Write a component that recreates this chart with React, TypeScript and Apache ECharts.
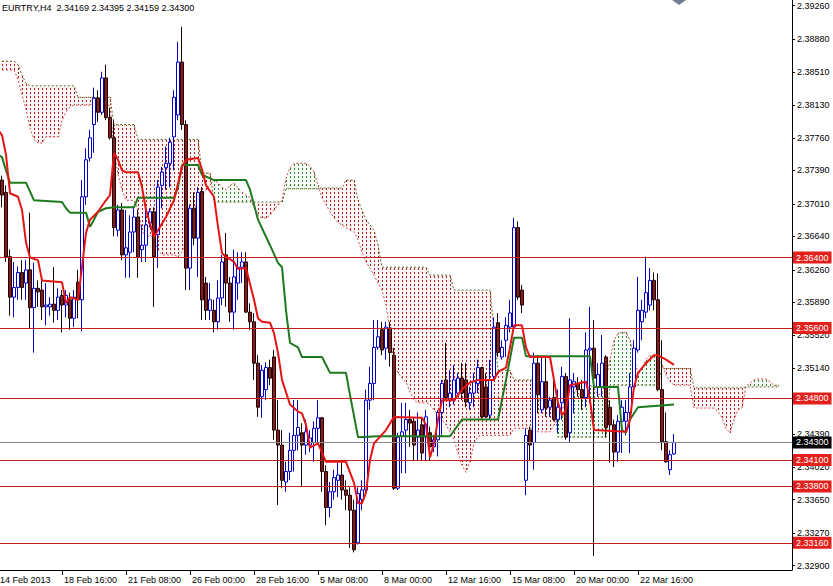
import React, { useEffect, useRef } from "react";
import * as echarts from "echarts";

const SYMBOL = "EURTRY,H4";
const lastBar = [2.34169, 2.34395, 2.34159, 2.343];
const SLOT_COUNT = 199;
const TICK_EVERY = 16;
const CLOUD_LAST = 195;

const xTickLabels = [
  "14 Feb 2013", "18 Feb 16:00", "21 Feb 08:00", "26 Feb 00:00", "28 Feb 16:00",
  "5 Mar 08:00", "8 Mar 00:00", "12 Mar 16:00", "15 Mar 08:00", "20 Mar 00:00", "22 Mar 16:00",
];

const yTicks = [
  2.3926, 2.3888, 2.3851, 2.3813, 2.3776, 2.3739, 2.3701, 2.3664, 2.3626,
  2.3589, 2.3552, 2.3514, 2.3439, 2.3402, 2.3365, 2.3327, 2.329,
];

const levels = [2.364, 2.356, 2.348, 2.341, 2.338, 2.3316];
const bidPrice = 2.343;

// [open, high, low, close]
const candles = [
  [2.3742, 2.3751, 2.3717, 2.3728], [2.3728, 2.3733, 2.3697, 2.3711], [2.3714, 2.3722, 2.3635, 2.3641],
  [2.3641, 2.3649, 2.3574, 2.3595], [2.3595, 2.3635, 2.3572, 2.3606], [2.3606, 2.3630, 2.3592, 2.3623],
  [2.3623, 2.3637, 2.3592, 2.3606], [2.3611, 2.3637, 2.3592, 2.3626], [2.3626, 2.3691, 2.3560, 2.3583],
  [2.3583, 2.3634, 2.3532, 2.3605], [2.3605, 2.3614, 2.3584, 2.3601], [2.3603, 2.3614, 2.3569, 2.3584],
  [2.3584, 2.3611, 2.3563, 2.3586], [2.3584, 2.3595, 2.3574, 2.3587], [2.3587, 2.3629, 2.3566, 2.3580],
  [2.3580, 2.3605, 2.3569, 2.3595], [2.3597, 2.3603, 2.3555, 2.3586], [2.3586, 2.3603, 2.3572, 2.3597],
  [2.3592, 2.3600, 2.3558, 2.3571], [2.3571, 2.3603, 2.3561, 2.3595], [2.3612, 2.3626, 2.3571, 2.3592],
  [2.3592, 2.3728, 2.3556, 2.3709], [2.3709, 2.3764, 2.3700, 2.3751], [2.3753, 2.3785, 2.3749, 2.3776],
  [2.3791, 2.3833, 2.3759, 2.3821], [2.3821, 2.3830, 2.3794, 2.3805], [2.3805, 2.3851, 2.3802, 2.3844],
  [2.3844, 2.3859, 2.3796, 2.3799], [2.3799, 2.3810, 2.3774, 2.3776], [2.3776, 2.3796, 2.3664, 2.3674],
  [2.3671, 2.3700, 2.3664, 2.3694], [2.3694, 2.3702, 2.3637, 2.3643], [2.3643, 2.3694, 2.3617, 2.3651],
  [2.3646, 2.3688, 2.3617, 2.3669], [2.3669, 2.3697, 2.3646, 2.3686], [2.3686, 2.3694, 2.3617, 2.3640],
  [2.3649, 2.3677, 2.3635, 2.3654], [2.3654, 2.3694, 2.3635, 2.3677], [2.3679, 2.3696, 2.3674, 2.3692],
  [2.3692, 2.3697, 2.3584, 2.3641], [2.3666, 2.3728, 2.3628, 2.3720], [2.3722, 2.3743, 2.3696, 2.3737],
  [2.3742, 2.3766, 2.3717, 2.3747], [2.3747, 2.3776, 2.3720, 2.3771], [2.3777, 2.3830, 2.3739, 2.3822],
  [2.3802, 2.3885, 2.3796, 2.3862], [2.3862, 2.3902, 2.3785, 2.3791], [2.3791, 2.3796, 2.3603, 2.3628],
  [2.3628, 2.3700, 2.3603, 2.3696], [2.3696, 2.3714, 2.3654, 2.3662], [2.3662, 2.3720, 2.3618, 2.3714],
  [2.3715, 2.3720, 2.3569, 2.3592], [2.3611, 2.3618, 2.3569, 2.3580], [2.3580, 2.3611, 2.3569, 2.3592],
  [2.3580, 2.3592, 2.3555, 2.3567], [2.3567, 2.3614, 2.3558, 2.3594], [2.3594, 2.3643, 2.3586, 2.3635],
  [2.3643, 2.3668, 2.3584, 2.3611], [2.3611, 2.3618, 2.3567, 2.3578], [2.3578, 2.3649, 2.3558, 2.3618],
  [2.3611, 2.3646, 2.3592, 2.3629], [2.3629, 2.3646, 2.3611, 2.3635], [2.3635, 2.3646, 2.3577, 2.3578],
  [2.3578, 2.3588, 2.3558, 2.3567], [2.3567, 2.3577, 2.3501, 2.3520], [2.3520, 2.3529, 2.3459, 2.3470],
  [2.3482, 2.3518, 2.3458, 2.3512], [2.3490, 2.3521, 2.3478, 2.3515], [2.3515, 2.3524, 2.3495, 2.3503],
  [2.3527, 2.3535, 2.3433, 2.3444], [2.3444, 2.3478, 2.3359, 2.3427], [2.3427, 2.3444, 2.3378, 2.3387],
  [2.3385, 2.3408, 2.3374, 2.3397], [2.3397, 2.3441, 2.3387, 2.3421], [2.3421, 2.3478, 2.3397, 2.3438],
  [2.3438, 2.3478, 2.3421, 2.3447], [2.3441, 2.3452, 2.3380, 2.3427], [2.3427, 2.3456, 2.3416, 2.3442],
  [2.3427, 2.3444, 2.3419, 2.3435], [2.3430, 2.3454, 2.3408, 2.3446], [2.3446, 2.3478, 2.3430, 2.3458],
  [2.3458, 2.3459, 2.3374, 2.3397], [2.3397, 2.3404, 2.3336, 2.3356], [2.3356, 2.3385, 2.3345, 2.3374],
  [2.3374, 2.3399, 2.3365, 2.3390], [2.3387, 2.3407, 2.3368, 2.3393], [2.3393, 2.3407, 2.3365, 2.3376],
  [2.3376, 2.3387, 2.3353, 2.3370], [2.3370, 2.3379, 2.3310, 2.3353], [2.3353, 2.3365, 2.3305, 2.3308],
  [2.3316, 2.3379, 2.3314, 2.3372], [2.3365, 2.3387, 2.3353, 2.3376], [2.3376, 2.3490, 2.3370, 2.3478],
  [2.3478, 2.3516, 2.3467, 2.3497], [2.3497, 2.3569, 2.3478, 2.3538], [2.3538, 2.3569, 2.3535, 2.3550],
  [2.3558, 2.3567, 2.3529, 2.3535], [2.3537, 2.3567, 2.3524, 2.3561], [2.3560, 2.3567, 2.3516, 2.3532],
  [2.3529, 2.3537, 2.3376, 2.3378], [2.3378, 2.3441, 2.3376, 2.3436], [2.3437, 2.3475, 2.3395, 2.3442],
  [2.3444, 2.3475, 2.3395, 2.3456], [2.3456, 2.3467, 2.3425, 2.3452], [2.3454, 2.3459, 2.3410, 2.3427],
  [2.3436, 2.3464, 2.3410, 2.3444], [2.3450, 2.3459, 2.3410, 2.3418], [2.3436, 2.3467, 2.3410, 2.3459],
  [2.3441, 2.3448, 2.3410, 2.3425], [2.3425, 2.3438, 2.3419, 2.3433], [2.3433, 2.3467, 2.3414, 2.3464],
  [2.3464, 2.3501, 2.3436, 2.3497], [2.3501, 2.3543, 2.3478, 2.3481], [2.3478, 2.3512, 2.3470, 2.3486],
  [2.3478, 2.3518, 2.3473, 2.3501], [2.3486, 2.3509, 2.3482, 2.3503], [2.3503, 2.3520, 2.3478, 2.3486],
  [2.3501, 2.3520, 2.3470, 2.3476], [2.3475, 2.3493, 2.3467, 2.3486], [2.3486, 2.3509, 2.3470, 2.3499],
  [2.3497, 2.3524, 2.3486, 2.3515], [2.3515, 2.3516, 2.3456, 2.3459], [2.3493, 2.3509, 2.3458, 2.3459],
  [2.3461, 2.3524, 2.3456, 2.3501], [2.3505, 2.3572, 2.3501, 2.3561], [2.3566, 2.3577, 2.3527, 2.3532],
  [2.3527, 2.3546, 2.3524, 2.3538], [2.3546, 2.3572, 2.3527, 2.3563], [2.3561, 2.3592, 2.3555, 2.3577],
  [2.3561, 2.3685, 2.3558, 2.3674], [2.3674, 2.3681, 2.3592, 2.3595], [2.3603, 2.3609, 2.3577, 2.3586],
  [2.3387, 2.3446, 2.3370, 2.3438], [2.3444, 2.3448, 2.3410, 2.3427], [2.3430, 2.3532, 2.3399, 2.3520],
  [2.3520, 2.3529, 2.3463, 2.3484], [2.3467, 2.3527, 2.3463, 2.3499], [2.3499, 2.3527, 2.3459, 2.3469],
  [2.3470, 2.3482, 2.3459, 2.3478], [2.3481, 2.3501, 2.3454, 2.3456], [2.3456, 2.3490, 2.3441, 2.3470],
  [2.3475, 2.3516, 2.3456, 2.3505], [2.3505, 2.3509, 2.3433, 2.3436], [2.3441, 2.3571, 2.3430, 2.3501],
  [2.3493, 2.3509, 2.3463, 2.3499], [2.3497, 2.3504, 2.3482, 2.3490], [2.3490, 2.3501, 2.3467, 2.3481],
  [2.3481, 2.3555, 2.3470, 2.3535], [2.3535, 2.3584, 2.3475, 2.3537], [2.3537, 2.3569, 2.3301, 2.3503],
  [2.3493, 2.3520, 2.3482, 2.3507], [2.3493, 2.3552, 2.3482, 2.3520], [2.3527, 2.3529, 2.3436, 2.3447],
  [2.3470, 2.3478, 2.3407, 2.3450], [2.3450, 2.3456, 2.3402, 2.3419], [2.3419, 2.3461, 2.3408, 2.3454],
  [2.3454, 2.3478, 2.3418, 2.3470], [2.3454, 2.3478, 2.3438, 2.3464], [2.3464, 2.3509, 2.3418, 2.3493],
  [2.3493, 2.3546, 2.3486, 2.3537], [2.3535, 2.3618, 2.3532, 2.3580], [2.3567, 2.3592, 2.3546, 2.3580],
  [2.3578, 2.3641, 2.3571, 2.3600], [2.3586, 2.3628, 2.3580, 2.3614], [2.3614, 2.3623, 2.3580, 2.3592],
  [2.3592, 2.3622, 2.3488, 2.3490], [2.3490, 2.3546, 2.3421, 2.3431], [2.3431, 2.3464, 2.3407, 2.3408],
  [2.3399, 2.3421, 2.3393, 2.3416], [2.34169, 2.34395, 2.34159, 2.343],
];

// Tenkan-sen vertices [barIndex, price]
const tenkan = [
  [0, 2.3785], [1, 2.3779], [2, 2.3757], [3, 2.3713], [4, 2.3711], [5, 2.3709], [6, 2.3694], [7, 2.3657],
  [8, 2.364], [10, 2.3637], [11, 2.3614], [16, 2.3612], [17, 2.3588], [18, 2.3595], [20, 2.3592], [21, 2.3629],
  [22, 2.3668], [23, 2.3683], [25, 2.3692], [27, 2.3705], [28, 2.3711], [29, 2.3759], [30, 2.3751], [31, 2.3739],
  [32, 2.3737], [35, 2.3737], [36, 2.372], [37, 2.3694], [39, 2.3663], [40, 2.3671], [42, 2.3686], [44, 2.3705],
  [46, 2.3743], [47, 2.3751], [50, 2.3753], [51, 2.374], [52, 2.3722], [54, 2.3709], [55, 2.3675], [56, 2.3645],
  [57, 2.3641], [59, 2.3635], [60, 2.3627], [62, 2.3628], [64, 2.3592], [65, 2.3571], [66, 2.3567], [68, 2.3566],
  [69, 2.3554], [70, 2.3532], [71, 2.3501], [73, 2.3473], [75, 2.3465], [76, 2.3463], [77, 2.345], [78, 2.3424],
  [80, 2.3429], [82, 2.3408], [87, 2.3408], [89, 2.3384], [90, 2.3361], [91, 2.3361], [92, 2.3373], [93, 2.341],
  [94, 2.3429], [97, 2.3444], [99, 2.3459], [106, 2.3458], [107, 2.345], [108, 2.3413], [109, 2.3429], [110, 2.3456],
  [111, 2.3478], [114, 2.3478], [116, 2.349], [118, 2.3498], [120, 2.3501], [124, 2.3501], [125, 2.351], [127, 2.3515],
  [128, 2.3538], [129, 2.3563], [131, 2.3563], [132, 2.3538], [133, 2.3527], [138, 2.3527], [140, 2.3475], [141, 2.3461],
  [142, 2.3467], [143, 2.3495], [147, 2.3499], [148, 2.3478], [149, 2.3444], [157, 2.3442], [158, 2.3456], [159, 2.3493],
  [160, 2.3509], [162, 2.352], [164, 2.3529], [165, 2.3529], [167, 2.3524], [169, 2.3518],
];

// Kijun-sen vertices [barIndex, price]
const kijun = [
  [0, 2.3757], [1, 2.3754], [2, 2.3739], [3, 2.3725], [7, 2.3725], [9, 2.3705], [16, 2.3703], [17, 2.3696],
  [18, 2.3691], [22, 2.3691], [23, 2.3675], [24, 2.3683], [25, 2.3692], [27, 2.3696], [29, 2.3697], [34, 2.3697],
  [35, 2.3708], [44, 2.3708], [45, 2.372], [46, 2.3745], [50, 2.3745], [51, 2.3734], [54, 2.3728], [62, 2.3728],
  [63, 2.3717], [65, 2.3683], [68, 2.3654], [70, 2.3634], [71, 2.3629], [72, 2.358], [73, 2.3543], [75, 2.3538],
  [76, 2.3527], [81, 2.3527], [83, 2.3509], [87, 2.3509], [88, 2.3484], [90, 2.3436], [95, 2.3437], [113, 2.3437],
  [116, 2.3456], [125, 2.3456], [127, 2.3501], [129, 2.3549], [131, 2.3549], [132, 2.3528], [148, 2.3528], [149, 2.3493],
  [155, 2.3493], [156, 2.3444], [157, 2.3441], [158, 2.3456], [160, 2.347], [169, 2.3473],
];

// Senkou span A / B: [fromBarIndex, price] (value holds until the next entry)
const spanA = [
  [0, 2.3853], [5, 2.3842], [6, 2.3825], [7, 2.3808], [8, 2.3787], [9, 2.3774], [10, 2.377], [12, 2.3777],
  [16, 2.3796], [17, 2.3805], [18, 2.3811], [19, 2.3813], [29, 2.3762], [30, 2.3734], [31, 2.3717], [32, 2.3705],
  [35, 2.3694], [36, 2.3671], [37, 2.366], [38, 2.3666], [39, 2.366], [40, 2.3649], [41, 2.3643], [45, 2.3641],
  [46, 2.3646], [47, 2.366], [48, 2.3677], [49, 2.3694], [50, 2.3705], [51, 2.3711], [52, 2.3717], [53, 2.3722],
  [54, 2.3728], [55, 2.3725], [56, 2.372], [57, 2.3717], [58, 2.3722], [59, 2.3725], [60, 2.3719], [61, 2.3714],
  [62, 2.3711], [63, 2.3708], [64, 2.3697], [65, 2.3688], [66, 2.3685], [68, 2.3688], [69, 2.3694], [70, 2.37],
  [71, 2.3705], [72, 2.373], [73, 2.3742], [74, 2.3747], [78, 2.3744], [79, 2.3737], [80, 2.3722], [81, 2.3708],
  [82, 2.37], [83, 2.3692], [84, 2.3685], [85, 2.368], [86, 2.3677], [87, 2.3674], [88, 2.3671], [89, 2.3669],
  [90, 2.366], [91, 2.3646], [92, 2.3635], [93, 2.3628], [94, 2.362], [95, 2.3611], [96, 2.3603], [97, 2.3586],
  [98, 2.3558], [99, 2.3518], [100, 2.3509], [101, 2.3503], [102, 2.3499], [103, 2.3487], [104, 2.3478], [105, 2.3475],
  [108, 2.3473], [109, 2.3467], [110, 2.3461], [111, 2.3456], [112, 2.345], [113, 2.3442], [114, 2.3433], [115, 2.3418],
  [116, 2.3404], [117, 2.3396], [118, 2.3408], [119, 2.3429], [120, 2.3437], [121, 2.3438], [129, 2.3446], [135, 2.3442],
  [139, 2.345], [140, 2.3456], [141, 2.3467], [142, 2.3478], [143, 2.3484], [144, 2.349], [145, 2.3486], [146, 2.3482],
  [147, 2.349], [148, 2.3495], [149, 2.3492], [150, 2.3484], [151, 2.3486], [152, 2.3501], [153, 2.3524], [154, 2.3546],
  [155, 2.3554], [156, 2.3555], [158, 2.3546], [159, 2.3529], [160, 2.3507], [161, 2.3514], [162, 2.3524], [163, 2.3529],
  [165, 2.3526], [166, 2.3518], [167, 2.3507], [168, 2.3499], [169, 2.3495], [174, 2.3469], [180, 2.3465], [181, 2.3458],
  [182, 2.3446], [183, 2.3441], [184, 2.3456], [185, 2.3467], [186, 2.3469], [187, 2.3494], [188, 2.3497], [189, 2.3501],
  [190, 2.3502], [193, 2.3499], [194, 2.3495],
];

const spanB = [
  [0, 2.3863], [5, 2.3859], [6, 2.3847], [7, 2.3838], [8, 2.3835], [20, 2.3822], [29, 2.3791], [35, 2.3774],
  [51, 2.3736], [54, 2.3703], [72, 2.3718], [81, 2.3719], [87, 2.3728], [90, 2.3705], [91, 2.3694], [92, 2.3683],
  [93, 2.3677], [94, 2.3671], [95, 2.3654], [96, 2.3629], [108, 2.362], [114, 2.3603], [124, 2.3558], [125, 2.3512],
  [129, 2.3501], [135, 2.3478], [140, 2.3436], [153, 2.3495], [166, 2.3514], [174, 2.3492], [187, 2.3493],
];

function holdRuns(runs: number[][], last: number): number[] {
  const out: number[] = [];
  let k = 0;
  for (let i = 0; i <= last; i++) {
    while (k + 1 < runs.length && runs[k + 1][0] <= i) k++;
    out.push(runs[k][1]);
  }
  return out;
}

const FONT = "'Liberation Sans', Arial, sans-serif";
const RED_LINE = "#c42020";
const LABEL_RED = "#e3201b";

export default function App() {
  const ref = useRef<HTMLDivElement>(null);

  useEffect(() => {
    if (!ref.current) return;
    const chart = echarts.init(ref.current, null, { renderer: "svg" });

    const categories = Array.from({ length: SLOT_COUNT }, (_, i) => String(i));
    const aFull = holdRuns(spanA, CLOUD_LAST);
    const bFull = holdRuns(spanB, CLOUD_LAST);
    const cloudData = aFull.map((a, i) => [i, a, bFull[i]]);
    const showTick = (i: number) => i % TICK_EVERY === 0 && i / TICK_EVERY < xTickLabels.length;

    const levelLabel = (bg: string) => ({
      show: true,
      position: "end",
      distance: 1,
      formatter: (p: any) => Number(p.value).toFixed(5),
      backgroundColor: bg,
      color: "#ffffff",
      fontSize: 9,
      fontFamily: FONT,
      padding: [2, 3, 1, 3],
    });

    const option: any = {
      animation: false,
      backgroundColor: "#ffffff",
      textStyle: { fontFamily: FONT },
      title: {
        text: `${SYMBOL}  ${lastBar.map((v) => v.toFixed(5)).join(" ")}`,
        left: 2,
        top: 3,
        padding: 0,
        textStyle: { fontSize: 9, fontWeight: "normal", color: "#000000", fontFamily: FONT },
      },
      grid: { left: -4, top: 0, width: SLOT_COUNT * 4, height: 570, containLabel: false, outerBoundsMode: "none" },
      xAxis: {
        type: "category",
        data: categories,
        boundaryGap: true,
        axisLine: { show: true, lineStyle: { color: "#000000", width: 1 } },
        axisTick: { show: true, alignWithLabel: true, interval: (i: number) => showTick(i), length: 5, lineStyle: { color: "#000000" } },
        axisLabel: {
          interval: (i: number) => showTick(i),
          formatter: (_v: string, i: number) => xTickLabels[Math.round(i / TICK_EVERY)] ?? "",
          align: "left",
          fontSize: 9,
          color: "#000000",
          margin: 5,
          padding: [0, 0, 0, 2],
        },
        splitLine: { show: false },
      },
      yAxis: {
        type: "value",
        position: "right",
        min: 2.32851,
        max: 2.39325,
        axisLine: { show: true, lineStyle: { color: "#000000", width: 1 } },
        axisTick: { show: true, customValues: yTicks, length: 3, lineStyle: { color: "#000000" } },
        axisLabel: { customValues: yTicks, formatter: (v: number) => v.toFixed(5), fontSize: 9, color: "#000000", margin: 5 },
        splitLine: { show: false },
      },
      graphic: [
        {
          type: "polygon",
          silent: true,
          shape: { points: [[672, 0], [686, 0], [679, 5]] },
          style: { fill: "#6e7e8e" },
        },
      ],
      series: [
        {
          type: "custom",
          name: "Kumo",
          silent: true,
          z: 1,
          data: cloudData,
          encode: { x: 0, y: [1, 2] },
          renderItem: (_params: any, api: any) => {
            const i = api.value(0);
            const a = api.value(1);
            const b = api.value(2);
            const pa = api.coord([i, a]);
            const pb = api.coord([i, b]);
            const up = a >= b;
            const x = Math.round(pa[0]) + 0.5;
            const y1 = Math.round(Math.min(pa[1], pb[1]));
            const y2 = Math.round(Math.max(pa[1], pb[1]));
            return {
              type: "group",
              children: [
                {
                  type: "rect",
                  shape: { x: x - 2, y: y1, width: 4, height: y2 - y1 },
                  style: { fill: up ? "rgba(60,150,60,0.04)" : "rgba(225,70,70,0.05)" },
                },
                {
                  type: "line",
                  shape: { x1: x, y1: y1, x2: x, y2: y2 },
                  style: { stroke: up ? "#2f7f2f" : "#b81c1c", lineWidth: 1, lineDash: [2, 2], lineDashOffset: ((y1 % 4) + 4) % 4 },
                },
              ],
            };
          },
        },
        {
          type: "line",
          name: "Senkou Span A",
          data: aFull.map((v, i) => [i, v]),
          symbol: "none",
          silent: true,
          z: 2,
          lineStyle: { color: "#d84848", width: 1, type: [2, 2] },
        },
        {
          type: "line",
          name: "Senkou Span B",
          data: bFull.map((v, i) => [i, v]),
          symbol: "none",
          silent: true,
          z: 2,
          lineStyle: { color: "#5c6a1c", width: 1, type: [2, 2] },
        },
        {
          type: "candlestick",
          name: SYMBOL,
          z: 3,
          barWidth: 3,
          data: candles.map(([o, h, l, c]) => [o, c, l, h]),
          itemStyle: {
            color: "#ffffff",
            color0: "#8b1a1a",
            borderColor: "#0000c8",
            borderColor0: "#1a0505",
            borderWidth: 1,
          },
          markLine: {
            silent: true,
            symbol: ["none", "none"],
            precision: 5,
            animation: false,
            data: [
              ...levels.map((v) => ({
                yAxis: v,
                lineStyle: { color: RED_LINE, width: 1, type: "solid" },
                label: levelLabel(LABEL_RED),
              })),
              {
                yAxis: bidPrice,
                lineStyle: { color: "#8a8a8a", width: 1, type: "solid" },
                label: levelLabel("#000000"),
              },
            ],
          },
        },
        {
          type: "line",
          name: "Kijun-sen",
          data: kijun,
          symbol: "none",
          silent: true,
          z: 4,
          lineStyle: { color: "#1e7a1e", width: 2 },
        },
        {
          type: "line",
          name: "Tenkan-sen",
          data: tenkan,
          symbol: "none",
          silent: true,
          z: 5,
          lineStyle: { color: "#e41414", width: 2 },
        },
      ],
    };

    chart.setOption(option);
    return () => chart.dispose();
  }, []);

  return (
    <div
      ref={ref}
      style={{ position: "fixed", left: 0, top: 0, width: 833, height: 586, background: "#ffffff" }}
    />
  );
}
